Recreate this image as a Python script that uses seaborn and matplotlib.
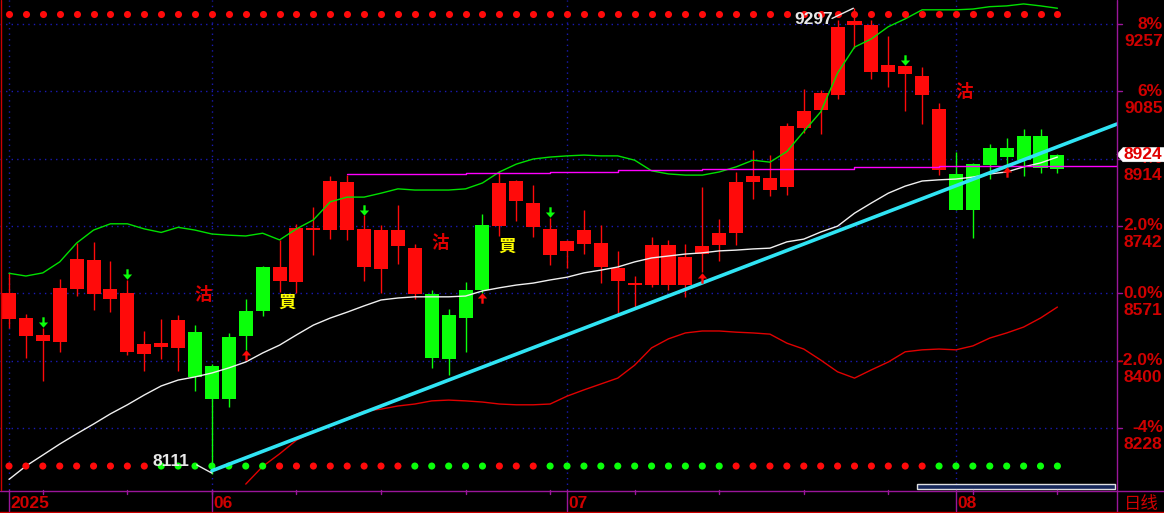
import numpy as np
import pandas as pd
import matplotlib.pyplot as plt
import matplotlib.transforms as mtransforms
from matplotlib.lines import Line2D
from matplotlib.patches import Polygon, Rectangle
from matplotlib.path import Path
import seaborn as sns

# daily candles, mid-May .. mid-Aug 2025 (index points)
body_top = [8572, 8508, 8465, 8584, 8658, 8656, 8582, 8572, 8442, 8444,
            8503, 8472, 8386, 8460, 8526, 8638, 8638, 8737, 8737, 8857,
            8854, 8735, 8732, 8732, 8686, 8569, 8516, 8579, 8745, 8852,
            8857, 8801, 8735, 8704, 8732, 8699, 8635, 8598, 8694, 8694,
            8663, 8692, 8725, 8854, 8870, 8865, 8997, 9035, 9081, 9249,
            9265, 9254, 9152, 9150, 9124, 9040, 8875, 8900, 8941, 8941,
            8972, 8972, 8924]
body_bot = [8505, 8462, 8450, 8447, 8582, 8569, 8556, 8421, 8416, 8434,
            8432, 8358, 8302, 8302, 8462, 8526, 8602, 8600, 8733, 8732,
            8732, 8638, 8633, 8691, 8569, 8406, 8404, 8508, 8579, 8742,
            8806, 8740, 8669, 8679, 8697, 8638, 8602, 8593, 8592, 8592,
            8592, 8671, 8694, 8725, 8854, 8834, 8842, 8992, 9038, 9076,
            9254, 9135, 9135, 9130, 9076, 8885, 8783, 8783, 8898, 8918,
            8911, 8890, 8888]
high = [8623, 8518, 8483, 8607, 8699, 8702, 8653, 8605, 8475, 8506,
        8516, 8490, 8391, 8470, 8556, 8640, 8707, 8747, 8791, 8870,
        8872, 8770, 8745, 8796, 8697, 8579, 8531, 8600, 8773, 8882,
        8860, 8847, 8763, 8707, 8783, 8745, 8679, 8615, 8714, 8707,
        8697, 8842, 8760, 8880, 8936, 8923, 9005, 9091, 9089, 9267,
        9297, 9267, 9226, 9150, 9147, 9056, 8931, 8903, 8951, 8967,
        8989, 8990, 8926]
low = [8483, 8406, 8348, 8421, 8564, 8528, 8523, 8414, 8373, 8404,
       8373, 8322, 8111, 8281, 8427, 8513, 8574, 8572, 8669, 8709,
       8707, 8602, 8572, 8646, 8556, 8381, 8363, 8421, 8572, 8717,
       8755, 8714, 8643, 8635, 8671, 8597, 8516, 8534, 8587, 8579,
       8562, 8625, 8653, 8694, 8811, 8819, 8821, 8979, 8977, 9066,
       9196, 9117, 9096, 9036, 9002, 8872, 8783, 8712, 8862, 8895,
       8870, 8877, 8877]
candle_col = "rrrrrrrrrrrgggggrrrrrrrrrggggrrrrrrrrrrrrrrrrrrrrrrrrrrrggggggg"
signal_dots = "rrrrrrrrrgggggggrrrrrrrrgggggrrrgggggggggggrrrrrrrrrrrrgggggggg"

# band lines
upper_band = [8622, 8615, 8623, 8651, 8699, 8732, 8748, 8748, 8735, 8726,
              8739, 8732, 8722, 8719, 8717, 8724, 8707, 8735, 8758, 8804,
              8816, 8816, 8826, 8837, 8834, 8834, 8834, 8837, 8852, 8880,
              8900, 8913, 8918, 8921, 8923, 8921, 8921, 8910, 8883, 8875,
              8872, 8872, 8880, 8893, 8910, 8905, 8932, 8983, 9033, 9132,
              9198, 9219, 9250, 9270, 9293, 9293, 9293, 9295, 9301, 9303,
              9308, 9303, 9297]
mid_line = [8097, 8131, 8159, 8187, 8213, 8238, 8264, 8287, 8312, 8335,
            8350, 8358, 8368, 8381, 8396, 8419, 8439, 8465, 8490, 8508,
            8523, 8539, 8554, 8559, 8562, 8562, 8562, 8564, 8577, 8585,
            8592, 8597, 8605, 8612, 8623, 8630, 8638, 8651, 8661, 8666,
            8671, 8674, 8679, 8681, 8684, 8686, 8702, 8709, 8727, 8742,
            8775, 8801, 8826, 8844, 8857, 8860, 8862, 8867, 8875, 8880,
            8893, 8903, 8918]
lower_start = 14
lower_band = [8085, 8130, 8162, 8197, 8218, 8233, 8253, 8271, 8276, 8284,
              8289, 8297, 8299, 8297, 8294, 8289, 8287, 8287, 8289, 8309,
              8325, 8340, 8355, 8388, 8432, 8455, 8470, 8475, 8475, 8472,
              8470, 8467, 8444, 8429, 8401, 8371, 8355, 8376, 8396, 8422,
              8427, 8429, 8427, 8437, 8457, 8470, 8485, 8508, 8536]
mag_start = 20
mag_line = [8875, 8875, 8875, 8876, 8876, 8876, 8876, 8878, 8878, 8878,
            8878, 8878, 8881, 8881, 8881, 8881, 8884, 8884, 8884, 8884,
            8884, 8887, 8887, 8887, 8887, 8887, 8887, 8887, 8887, 8887,
            8892, 8892, 8892, 8892, 8892, 8895, 8895, 8895, 8895, 8895,
            8895, 8895, 8895]
trend_idx = [12, 62]
trend_val = [8119, 8944]

sell_arrows = [2, 7, 21, 32, 53]
buy_arrows = [14, 28, 41, 59]

base = 8571
pct_steps = [8, 6, 4, 2, 0, -2, -4]
pct_labels = ['8%', '6%', '4%', '2.0%', '0.0%', '-2.0%', '-4%']
price_labels = ['9257', '9085', '8914', '8742', '8571', '8400', '8228']
last_price = 8924
month_idx = [0, 12, 33, 56]
month_labels = ['2025', '06', '07', '08']

RED = '#ff0a0a'
GREEN = '#0aff0a'
LBL = '#d00000'
PURPLE = '#9a169a'
GRIDC = '#1a1ab4'

sns.set_style('dark', {'axes.facecolor': 'black', 'figure.facecolor': 'black'})
plt.rcParams['font.family'] = ['Liberation Sans', 'Noto Sans CJK SC', 'DejaVu Sans']

W, H = 1164, 513
def fx(px):
    return px / W
def fy(py):
    return 1 - py / H

n = len(body_top)
idx = np.arange(n)
df = pd.DataFrame({'i': idx, 'top': body_top, 'bot': body_bot, 'high': high,
                   'low': low, 'col': list(candle_col), 'dot': list(signal_dots),
                   'upper': upper_band, 'mid': mid_line})

fig = plt.figure(figsize=(W / 100, H / 100), dpi=100)
fig.patch.set_facecolor('black')
ax = fig.add_axes([0, fy(490), fx(1117), 490 / H])
ax.set_facecolor('black')
y0, y1 = 8070, 9318
ax.set_xlim(-9 / 16.91, 1108 / 16.91)
ax.set_ylim(y0, y1)
ax.axis('off')
ypx = (y1 - y0) / 490

# grid
for k in pct_steps:
    ax.axhline(base * (1 + k / 100), color=GRIDC, lw=1, ls=(0, (1, 3)), zorder=0)
for m in month_idx:
    ax.axvline(m, color=GRIDC, lw=1, ls=(0, (1, 3)), zorder=0)

# candles
colors = [RED if c == 'r' else GREEN for c in df['col']]
ax.vlines(df['i'], df['low'], df['high'], colors=colors, lw=1, zorder=2)
hgt = np.maximum(df['top'] - df['bot'], 1.3 * ypx)
ax.bar(df['i'], hgt, bottom=(df['top'] + df['bot']) / 2 - hgt / 2, width=0.83,
       color=colors, lw=0, zorder=2)

# indicator lines
sns.lineplot(x=idx, y=df['upper'], ax=ax, color='#00e000', lw=1, zorder=3)
sns.lineplot(x=idx, y=df['mid'], ax=ax, color='#f0f0f0', lw=1, zorder=3)
sns.lineplot(x=idx[lower_start:], y=lower_band, ax=ax, color='#e00000', lw=1, zorder=3)
mx = list(idx[mag_start:]) + [ax.get_xlim()[1]]
sns.lineplot(x=mx, y=mag_line + [8899], ax=ax, color='#ff00ff', lw=1,
             drawstyle='steps-post', zorder=3)
slope = (trend_val[1] - trend_val[0]) / (trend_idx[1] - trend_idx[0])
xr = ax.get_xlim()[1]
ax.plot([trend_idx[0], xr], [trend_val[0], trend_val[0] + slope * (xr - trend_idx[0])],
        color='#30e4f4', lw=2.6, zorder=4)

# signal dot rows
pal = {'r': RED, 'g': GREEN}
sns.scatterplot(x=idx, y=np.full(n, 9282.0), ax=ax, color=RED, s=26, lw=0, zorder=3)
sns.scatterplot(x=idx, y=np.full(n, 8131.0), hue=df['dot'], palette=pal, ax=ax,
                s=26, lw=0, legend=False, zorder=3)

# arrows (head at origin, stem behind)
down_arrow = Path([(-1, 4.5), (-1, 0), (-4, 0), (0, -4.5), (4, 0), (1, 0), (1, 4.5), (-1, 4.5)],
                  [Path.MOVETO] + [Path.LINETO] * 6 + [Path.CLOSEPOLY])
up_arrow = Path([(-1, -4.5), (-1, 0), (-4, 0), (0, 4.5), (4, 0), (1, 0), (1, -4.5), (-1, -4.5)],
                [Path.MOVETO] + [Path.LINETO] * 6 + [Path.CLOSEPOLY])
for i in sell_arrows:
    ax.plot(i, df['high'][i] + 5.5 * ypx, marker=down_arrow, ms=7.5, color=GREEN,
            mec='none', zorder=5)
for i in buy_arrows:
    ax.plot(i, df['low'][i] - 5.5 * ypx, marker=up_arrow, ms=7.5, color=RED,
            mec='none', zorder=5)

# buy/sell texts
for xi, yv in [(11.47, 8567), (25.5, 8699), (56.5, 9084)]:
    ax.text(xi, yv, '沽', color='#e00000', fontsize=12.5, weight='bold',
            family=['Noto Sans CJK TC'], ha='center', va='center', zorder=6)
for xi, yv in [(16.44, 8546), (29.45, 8689)]:
    ax.text(xi, yv, '買', color='#ffff00', fontsize=12.5, weight='bold',
            family=['Noto Sans CJK TC'], ha='center', va='center', zorder=6)

# extreme labels
ax.text(9.58, 8143, '8111', color='#e8e8e8', fontsize=12.5, weight='bold',
        ha='center', va='center', zorder=6)
ax.plot([11.1, 12], [8134, 8113], color='#e8e8e8', lw=1, zorder=6)
ax.text(47.6, 9268, '9297', color='#e8e8e8', fontsize=12.5, weight='bold',
        ha='center', va='center', zorder=6)
ax.plot([48.67, 49.93], [9271, 9297], color='#e8e8e8', lw=1, zorder=6)

# right axis labels
trans = mtransforms.blended_transform_factory(fig.transFigure, ax.transData)
for k, pl, pr in zip(pct_steps, pct_labels, price_labels):
    lev = base * (1 + k / 100)
    ax.text(fx(1163), lev, pl, transform=trans, ha='right', va='center',
            color=LBL, fontsize=12.5, weight='bold', clip_on=False, zorder=8)
    ax.text(fx(1124), lev - 17 * ypx, pr, transform=trans, ha='left', va='center',
            color=LBL, fontsize=12.5, weight='bold', clip_on=False, zorder=8)
    ax.plot([fx(1117), fx(1122)], [lev, lev], transform=trans, color=PURPLE,
            lw=1, clip_on=False)

# last price flag
pts = [(fx(1117), last_price), (fx(1123), last_price + 7 * ypx),
       (fx(1164), last_price + 7 * ypx), (fx(1164), last_price - 7 * ypx),
       (fx(1123), last_price - 7 * ypx)]
ax.add_patch(Polygon(pts, closed=True, transform=trans, fc='white', ec='white',
                     lw=0.5, clip_on=False, zorder=9))
ax.text(fx(1124), last_price, str(last_price), transform=trans, ha='left',
        va='center', color='#e00000', fontsize=12.5, weight='bold',
        clip_on=False, zorder=10)

# frame lines
def fline(xs, ys, c, lw=1):
    fig.add_artist(Line2D([fx(v) for v in xs], [fy(v) for v in ys],
                          transform=fig.transFigure, color=c, lw=lw))

fline([0, W], [490.5, 490.5], PURPLE)
fline([1117, 1117], [0, H], PURPLE)
fline([0, W], [511.5, 511.5], '#cc0000')
fline([0.5, 0.5], [0, 490], '#cc0000')

# bottom date strip
for m, lab in zip(month_idx, month_labels):
    xp = 9 + 16.91 * m
    fline([xp, xp], [490, 511], PURPLE)
    fig.text(fx(xp + 1), fy(504), lab, color=LBL, fontsize=12.5, weight='bold',
             ha='left', va='center')
for i in range(2, n, 5):
    xp = 9 + 16.91 * i
    fline([xp, xp], [490, 494], PURPLE)
fig.text(fx(1141), fy(504), '日线', color=LBL, fontsize=12.5,
         family=['Noto Sans CJK SC'], ha='center', va='center')

# scroll bar
fig.add_artist(Rectangle((fx(917), fy(489)), 198 / W, 5 / H, transform=fig.transFigure,
                         fc='#16275a', ec='#e0e0e0', lw=1))

plt.savefig('out.png', dpi=100, facecolor='black')
